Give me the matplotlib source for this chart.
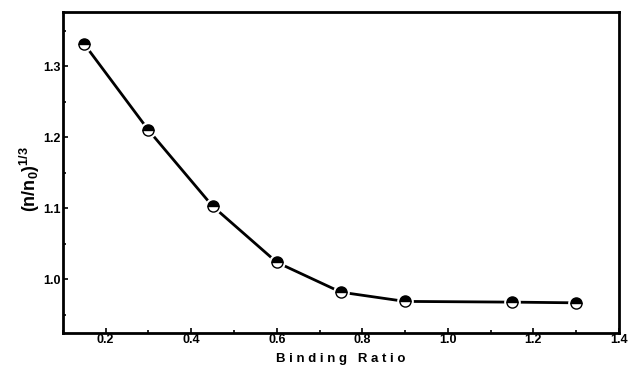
import matplotlib.pyplot as plt
from matplotlib.ticker import MultipleLocator

# Data
binding_ratio = [0.15, 0.30, 0.45, 0.60, 0.75, 0.90, 1.15, 1.30]
ratio_cube_root = [1.331, 1.210, 1.103, 1.024, 0.982, 0.969, 0.968, 0.967]

plt.rcParams['font.family'] = ['Liberation Sans', 'DejaVu Sans']
plt.rcParams['font.weight'] = 'bold'
plt.rcParams['mathtext.fontset'] = 'custom'
plt.rcParams['mathtext.rm'] = 'Liberation Sans:bold'
plt.rcParams['mathtext.bf'] = 'Liberation Sans:bold'

fig = plt.figure(figsize=(6.29, 3.67), dpi=100)
ax = fig.add_axes([0.100, 0.0935, 0.884, 0.8735])

ax.plot(binding_ratio, ratio_cube_root, color='black', linewidth=2, zorder=1)
# white halo so the line stops short of each marker
ax.plot(binding_ratio, ratio_cube_root, linestyle='none', marker='o', markersize=11,
        markerfacecolor='white', markeredgecolor='white', zorder=2)
ax.plot(binding_ratio, ratio_cube_root, linestyle='none', marker='o', markersize=8,
        fillstyle='top', markerfacecolor='black', markerfacecoloralt='white',
        markeredgecolor='black', markeredgewidth=1, zorder=3)

ax.set_xlim(0.1, 1.4)
ax.set_ylim(0.925, 1.376)
ax.xaxis.set_minor_locator(MultipleLocator(0.1))
ax.yaxis.set_minor_locator(MultipleLocator(0.05))
ax.set_xticks([0.2, 0.4, 0.6, 0.8, 1.0, 1.2, 1.4])
ax.set_xticklabels(['0.2', '0.4', '0.6', '0.8', '1.0', '1.2', '1.4'])
ax.set_yticks([1.0, 1.1, 1.2, 1.3])
ax.set_yticklabels(['1.0', '1.1', '1.2', '1.3'])

ax.tick_params(which='both', direction='in', width=1.2, labelsize=9)
ax.tick_params(which='major', length=3.5)
ax.tick_params(which='minor', length=2.5)
ax.tick_params(axis='x', pad=1)
ax.tick_params(axis='y', pad=1.5)

for s in ax.spines.values():
    s.set_linewidth(2)

ax.set_xlabel('B i n d i n g   R a t i o', fontsize=9.5, fontweight='bold', labelpad=5)
ax.set_ylabel(r'(n/n$_{\mathrm{0}}$)$^{\mathrm{1/3}}$', fontsize=13, fontweight='bold')
ax.yaxis.set_label_coords(-0.038, 0.48)

fig.savefig('out.png', dpi=100)
